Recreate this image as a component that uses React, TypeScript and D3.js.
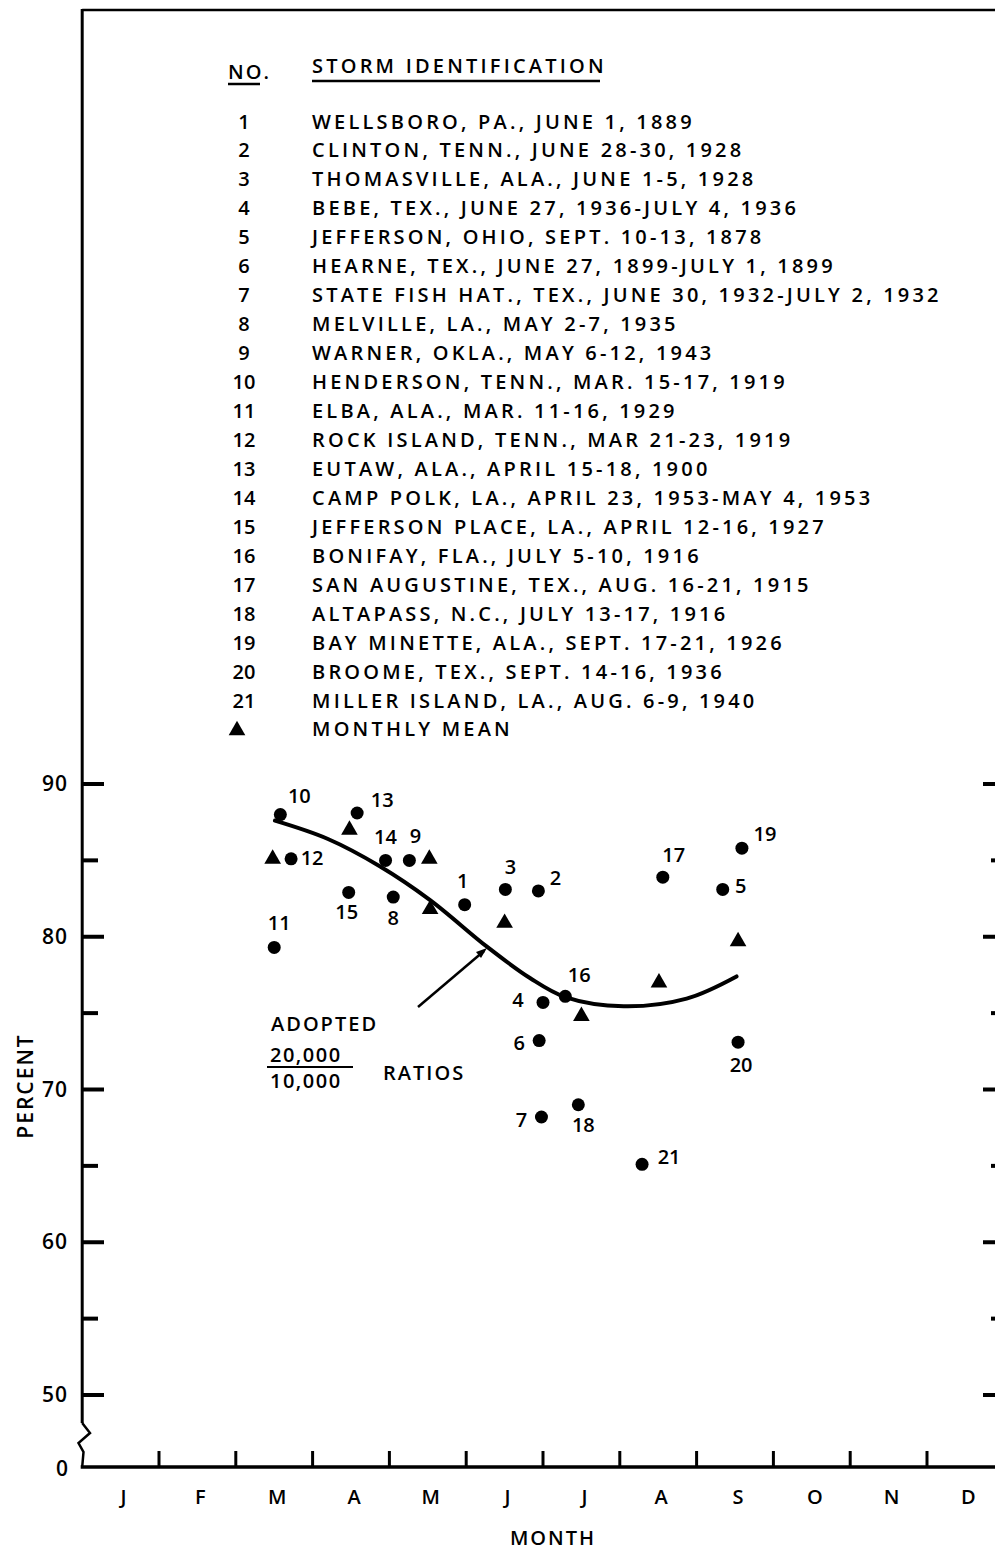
import React from "react";
import * as d3 from "d3";

const months = ["J", "F", "M", "A", "M", "J", "J", "A", "S", "O", "N", "D"];

const stormNames = [
  "WELLSBORO, PA., JUNE 1, 1889",
  "CLINTON, TENN., JUNE 28-30, 1928",
  "THOMASVILLE, ALA., JUNE 1-5, 1928",
  "BEBE, TEX., JUNE 27, 1936-JULY 4, 1936",
  "JEFFERSON, OHIO, SEPT. 10-13, 1878",
  "HEARNE, TEX., JUNE 27, 1899-JULY 1, 1899",
  "STATE FISH HAT., TEX., JUNE 30, 1932-JULY 2, 1932",
  "MELVILLE, LA., MAY 2-7, 1935",
  "WARNER, OKLA., MAY 6-12, 1943",
  "HENDERSON, TENN., MAR. 15-17, 1919",
  "ELBA, ALA., MAR. 11-16, 1929",
  "ROCK ISLAND, TENN., MAR 21-23, 1919",
  "EUTAW, ALA., APRIL 15-18, 1900",
  "CAMP POLK, LA., APRIL 23, 1953-MAY 4, 1953",
  "JEFFERSON PLACE, LA., APRIL 12-16, 1927",
  "BONIFAY, FLA., JULY 5-10, 1916",
  "SAN AUGUSTINE, TEX., AUG. 16-21, 1915",
  "ALTAPASS, N.C., JULY 13-17, 1916",
  "BAY MINETTE, ALA., SEPT. 17-21, 1926",
  "BROOME, TEX., SEPT. 14-16, 1936",
  "MILLER ISLAND, LA., AUG. 6-9, 1940",
];

// storm position: month (0 = Jan 1) and ratio in percent
const stormMonth = [
  4.98, 5.94, 5.51, 6.0, 8.34, 5.95, 5.98, 4.05, 4.26, 2.58, 2.5, 2.72, 3.58,
  3.95, 3.47, 6.29, 7.56, 6.46, 8.59, 8.54, 7.29,
];
const stormPercent = [
  82.1, 83.0, 83.1, 75.7, 83.1, 73.2, 68.2, 82.6, 85.0, 88.0, 79.3, 85.1, 88.1,
  85.0, 82.9, 76.1, 83.9, 69.0, 85.8, 73.1, 65.1,
];

// monthly means (triangles)
const meanMonth = [2.48, 3.48, 4.52, 4.53, 5.5, 6.5, 7.51, 8.54];
const meanPercent = [85.1, 87.0, 85.1, 81.8, 80.9, 74.8, 77.0, 79.7];

// adopted 20,000/10,000 ratio curve
const adoptedMonth = [2.51, 3.2, 3.88, 4.53, 5.27, 5.83, 6.29, 7.05, 7.87, 8.52];
const adoptedPercent = [87.6, 86.4, 84.6, 82.4, 79.35, 77.3, 76.05, 75.45, 75.95, 77.4];

const yMajor = [90, 80, 70, 60, 50];
const yMinor = [85, 75, 65, 55];

// where each storm number sits relative to its dot (layout only)
const labelOffset: [number, number][] = [
  [-2, -24], [17, -13], [5, -22], [-25, -2], [18, -3], [-20, 2], [-20, 3],
  [0, 21], [6, -24], [19, -19], [5, -24], [21, -1], [25, -13], [0, -23],
  [-2, 20], [14, -21], [11, -22], [5, 20], [23, -14], [3, 23], [27, -7],
];

const W = 995;
const H = 1552;
const axisX = 82.2;
const baseY = 1467;
const font = "'Open Sans', 'DejaVu Sans', sans-serif";
const ls = 3.2; // wide gothic look

const App: React.FC = () => {
  const x = d3.scaleLinear().domain([0, 12]).range([axisX, axisX + 12 * 76.8]);
  const y = d3.scaleLinear().domain([50, 90]).range([1395, 784]);

  const line = d3
    .line<number>()
    .x((_, i) => x(adoptedMonth[i]))
    .y((d) => y(d))
    .curve(d3.curveCatmullRom);

  const tri = d3.symbol().type(d3.symbolTriangle).size(120)();

  const rowY = (i: number) => 128.5 + i * 28.95;

  return (
    <div style={{ position: "absolute", left: 0, top: 0 }}>
      <svg
        width={W}
        height={H}
        style={{ display: "block", background: "#fff" }}
        fontFamily={font}
        fontWeight={600}
      >
        {/* frame */}
        <line x1={axisX} x2={W} y1={10} y2={10} stroke="#000" strokeWidth={2.5} />
        <line x1={axisX} x2={axisX} y1={9} y2={1423} stroke="#000" strokeWidth={3} />
        <path
          d={`M${axisX},1423 L90,1433 L78.5,1443 L83.5,1452 L${axisX},${baseY}`}
          fill="none"
          stroke="#000"
          strokeWidth={2.5}
        />
        <line x1={axisX - 1.5} x2={W} y1={baseY} y2={baseY} stroke="#000" strokeWidth={3.5} />

        {/* legend */}
        <text x={228} y={79} fontSize={20} letterSpacing={2} fill="#000">NO.</text>
        <line x1={228} x2={260} y1={84} y2={84} stroke="#000" strokeWidth={2.5} />
        <text x={312} y={73} fontSize={20} letterSpacing={ls} fill="#000">STORM IDENTIFICATION</text>
        <line x1={312} x2={600} y1={81} y2={81} stroke="#000" strokeWidth={2.5} />
        {stormNames.map((name, i) => (
          <g key={name}>
            <text x={244} y={rowY(i)} fontSize={20} textAnchor="middle" fill="#000">
              {i + 1}
            </text>
            <text x={312} y={rowY(i)} fontSize={20} letterSpacing={ls} fill="#000">
              {name}
            </text>
          </g>
        ))}
        <path d={tri} transform={`translate(237,${rowY(21) - 6})`} fill="#000" />
        <text x={312} y={rowY(21)} fontSize={20} letterSpacing={ls} fill="#000">MONTHLY MEAN</text>

        {/* y axis ticks */}
        {yMajor.map((v) => (
          <g key={v}>
            <line x1={axisX} x2={104} y1={y(v)} y2={y(v)} stroke="#000" strokeWidth={4} />
            <line x1={983} x2={W} y1={y(v)} y2={y(v)} stroke="#000" strokeWidth={4} />
            <text x={68} y={y(v) + 7} fontSize={21} letterSpacing={1} textAnchor="end" fill="#000">
              {v}
            </text>
          </g>
        ))}
        {yMinor.map((v) => (
          <g key={v}>
            <line x1={axisX} x2={98} y1={y(v)} y2={y(v)} stroke="#000" strokeWidth={4} />
            <line x1={991} x2={W} y1={y(v)} y2={y(v)} stroke="#000" strokeWidth={4} />
          </g>
        ))}
        <text x={68} y={baseY + 9} fontSize={21} textAnchor="end" fill="#000">0</text>
        <text
          transform={`translate(33,1086) rotate(-90)`}
          fontSize={21}
          letterSpacing={2}
          textAnchor="middle"
          fill="#000"
        >
          PERCENT
        </text>

        {/* x axis ticks and months */}
        {d3.range(1, 12).map((m) => (
          <line key={m} x1={x(m)} x2={x(m)} y1={baseY} y2={baseY - 16} stroke="#000" strokeWidth={3} />
        ))}
        {months.map((m, i) => (
          <text key={i} x={x(i + 0.5) + 3} y={1504} fontSize={20} textAnchor="middle" fill="#000">
            {m}
          </text>
        ))}
        <text x={553} y={1545} fontSize={20} letterSpacing={2} textAnchor="middle" fill="#000">MONTH</text>

        {/* adopted curve */}
        <path d={line(adoptedPercent) ?? ""} fill="none" stroke="#000" strokeWidth={4} strokeLinecap="round" />

        {/* arrow */}
        <line x1={418} y1={1007} x2={484} y2={951} stroke="#000" strokeWidth={2.5} />
        <path d="M487,948 L476,952 L481,958 Z" fill="#000" />
        <text x={271} y={1031} fontSize={20} letterSpacing={2} fill="#000">ADOPTED</text>
        <text x={270} y={1062} fontSize={20} letterSpacing={1.5} fill="#000">20,000</text>
        <line x1={267} x2={353} y1={1067} y2={1067} stroke="#000" strokeWidth={2} />
        <text x={270} y={1088} fontSize={20} letterSpacing={1.5} fill="#000">10,000</text>
        <text x={383} y={1080} fontSize={20} letterSpacing={2} fill="#000">RATIOS</text>

        {/* monthly means */}
        {meanMonth.map((m, i) => (
          <path key={i} d={tri} transform={`translate(${x(m)},${y(meanPercent[i])})`} fill="#000" />
        ))}

        {/* storms */}
        {stormMonth.map((m, i) => {
          const cx = x(m);
          const cy = y(stormPercent[i]);
          const [dx, dy] = labelOffset[i];
          return (
            <g key={i}>
              <circle cx={cx} cy={cy} r={6.5} fill="#000" />
              <text x={cx + dx} y={cy + dy + 7} fontSize={20} textAnchor="middle" fill="#000">
                {i + 1}
              </text>
            </g>
          );
        })}
      </svg>
    </div>
  );
};

export default App;
